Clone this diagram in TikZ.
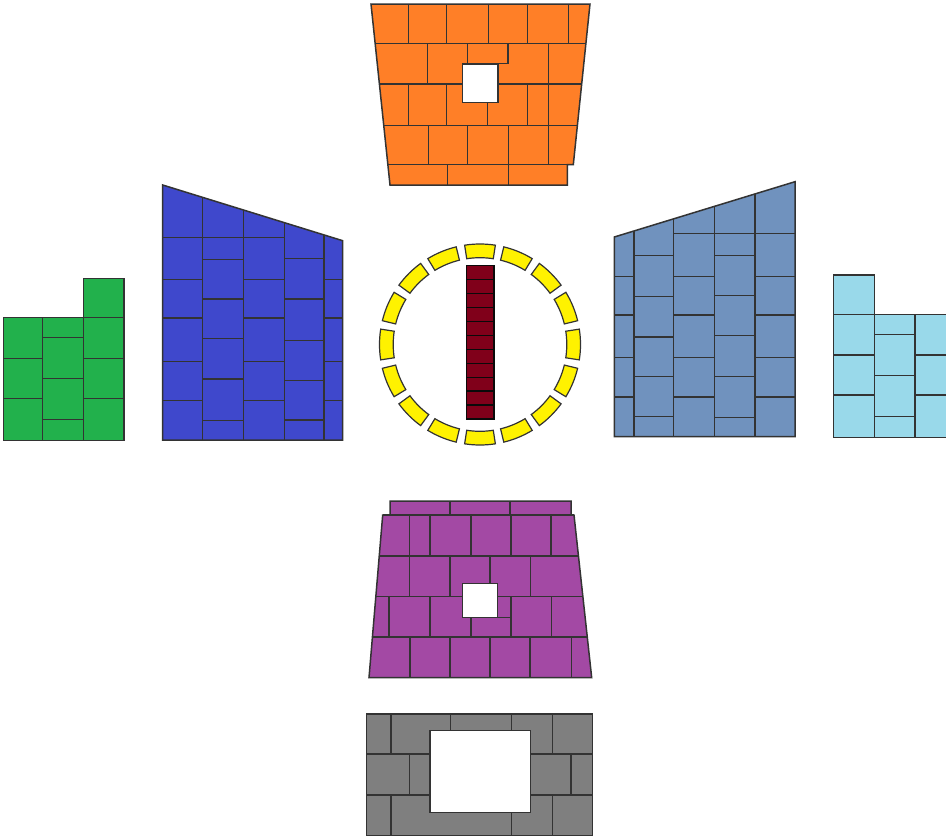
\documentclass[tikz,border=0pt]{standalone}
\definecolor{orangeW}{HTML}{FF7F27}
\definecolor{indigoW}{HTML}{3F48CC}
\definecolor{greenW}{HTML}{22B14C}
\definecolor{steelW}{HTML}{7092BE}
\definecolor{turqW}{HTML}{99D9EA}
\definecolor{purpleW}{HTML}{A349A4}
\definecolor{grayW}{HTML}{7F7F7F}
\definecolor{yellowW}{HTML}{FFF200}
\definecolor{redW}{HTML}{80001A}
\definecolor{edgeW}{HTML}{333333}
\definecolor{redjoint}{HTML}{0A0A0A}
\begin{document}
\begin{tikzpicture}[x=1pt,y=-1pt,
  wall/.style={draw=edgeW,line width=1.5pt,line join=miter},
  joint/.style={draw=edgeW,line width=1.3pt},
  hole/.style={fill=white,draw=edgeW,line width=1.5pt}]
\clip (0,0) rectangle (946,838);
\fill[white] (0,0) rectangle (946,838);

% ---------- orange (top) ----------
\filldraw[wall,fill=orangeW] (371,4) -- (590,4) -- (573.3,164.7) -- (567.3,164.7) -- (567.3,185) -- (390,185) -- cycle;
\draw[joint] (375.1,43.3) -- (585.9,43.3);
\draw[joint] (379.4,84) -- (462.7,84) (498,84) -- (581.7,84);
\draw[joint] (383.7,125.3) -- (577.4,125.3);
\draw[joint] (387.9,164.7) -- (573.3,164.7);
\draw[joint] (467.3,63.7) -- (508,63.7);
\foreach \x in {408.3,446.7,488.3,527.3,568.3} \draw[joint] (\x,4) -- (\x,43.3);
\foreach \x in {427.7,548.3} \draw[joint] (\x,43.3) -- (\x,84);
\foreach \x in {467.3,508} \draw[joint] (\x,43.3) -- (\x,63.7);
\foreach \x in {408.3,446.7,527.3,548.3} \draw[joint] (\x,84) -- (\x,125.3);
\draw[joint] (487.7,102.7) -- (487.7,125.3);
\foreach \x in {428.3,467.3,508.7,548.3} \draw[joint] (\x,125.3) -- (\x,164.7);
\foreach \x in {447.7,508.7} \draw[joint] (\x,164.7) -- (\x,185);
\draw[hole] (462.7,64) rectangle (498,102.7);

% ---------- indigo (left) ----------
\filldraw[wall,fill=indigoW] (162.7,185) -- (342.7,240.7) -- (342.7,440) -- (162.7,440) -- cycle;
\foreach \x/\t in {202.7/197.4,243.3/209.9,284.7/222.7,324/234.9} \draw[joint] (\x,\t) -- (\x,440);
\foreach \y in {237.3,279.3,318,361.3,400.3} \draw[joint] (162.7,\y) -- (202.7,\y);
\foreach \y in {237.3,259.3,299,338.7,379,420.7} \draw[joint] (202.7,\y) -- (243.3,\y);
\foreach \y in {237.3,279.3,318,361.3,400.3} \draw[joint] (243.3,\y) -- (284.7,\y);
\foreach \y in {258.7,299,340.3,380.3,420} \draw[joint] (284.7,\y) -- (324,\y);
\foreach \y in {279.3,318,361.3,400.3} \draw[joint] (324,\y) -- (342.7,\y);

% ---------- green (far left) ----------
\filldraw[wall,fill=greenW] (3.3,317.7) -- (83.3,317.7) -- (83.3,278.7) -- (124,278.7) -- (124,440.7) -- (3.3,440.7) -- cycle;
\foreach \x in {42.7,83.3} \draw[joint] (\x,317.7) -- (\x,440.7);
\foreach \y in {358.7,398.3} \draw[joint] (3.3,\y) -- (42.7,\y);
\foreach \y in {337.7,378.7,419.7} \draw[joint] (42.7,\y) -- (83.3,\y);
\foreach \y in {317.7,358.7,398.3} \draw[joint] (83.3,\y) -- (124,\y);

% ---------- steel blue (right) ----------
\filldraw[wall,fill=steelW] (614.3,237) -- (795,181.7) -- (795,436.7) -- (614.3,436.7) -- cycle;
\foreach \x/\t in {634/231,673.3/218.9,714.7/206.3,755/193.9} \draw[joint] (\x,\t) -- (\x,436.7);
\foreach \y in {276.3,315,357.7,397} \draw[joint] (614.3,\y) -- (634,\y);
\foreach \y in {255.3,296.3,337,376.3,416.7} \draw[joint] (634,\y) -- (673.3,\y);
\foreach \y in {233.7,276.3,315,357.7,397} \draw[joint] (673.3,\y) -- (714.7,\y);
\foreach \y in {233.7,255.3,295.7,335.3,376.3,417.7} \draw[joint] (714.7,\y) -- (755,\y);
\foreach \y in {233.7,276.3,315,357.7,397} \draw[joint] (755,\y) -- (795,\y);

% ---------- turquoise (far right) ----------
\filldraw[wall,fill=turqW] (833.3,275) -- (874.3,275) -- (874.3,314.3) -- (960,314.3) -- (960,437.7) -- (833.3,437.7) -- cycle;
\foreach \x in {874.3,915} \draw[joint] (\x,314.3) -- (\x,437.7);
\foreach \y in {314.6,355,395} \draw[joint] (833.3,\y) -- (874.3,\y);
\foreach \y in {334.3,375.7,416.7} \draw[joint] (874.3,\y) -- (915,\y);
\foreach \y in {355,395} \draw[joint] (915,\y) -- (960,\y);

% ---------- purple (bottom) ----------
\filldraw[wall,fill=purpleW] (390,501) -- (571,501) -- (571,515) -- (574,515) -- (591.7,677.7) -- (369,677.7) -- (382.7,515) -- (390,515) -- cycle;
\draw[joint] (382.7,515) -- (574,515);
\draw[joint] (379.2,556) -- (578.5,556);
\draw[joint] (375.8,596.7) -- (462.7,596.7) (497.3,596.7) -- (582.9,596.7);
\draw[joint] (372.4,637) -- (587.3,637);
\draw[joint] (497.3,617.7) -- (511,617.7);
\foreach \x in {450,510} \draw[joint] (\x,501) -- (\x,515);
\foreach \x in {409.3,430,471,511,551} \draw[joint] (\x,515) -- (\x,556);
\foreach \x in {409.3,450,530.7} \draw[joint] (\x,556) -- (\x,596.7);
\draw[joint] (490,556) -- (490,583.7);
\foreach \x in {389,430,511,551.7} \draw[joint] (\x,596.7) -- (\x,637);
\draw[joint] (471,617.7) -- (471,637);
\foreach \x in {410,450,490,530,571.7} \draw[joint] (\x,637) -- (\x,677.7);
\draw[hole] (462.7,583.7) rectangle (497.3,617.7);

% ---------- gray (bottom) ----------
\filldraw[wall,fill=grayW] (366.7,714) rectangle (592.3,835.7);
\draw[joint] (366.7,754) -- (430,754) (530.7,754) -- (592.3,754);
\draw[joint] (366.7,795) -- (430,795) (530.7,795) -- (592.3,795);
\foreach \x in {391,552.3} \draw[joint] (\x,714) -- (\x,754);
\foreach \x in {450.7,511.7} \draw[joint] (\x,714) -- (\x,730.7);
\foreach \x in {409.3,571} \draw[joint] (\x,754) -- (\x,795);
\foreach \x in {391,552.3} \draw[joint] (\x,795) -- (\x,835.7);
\draw[joint] (511.7,812.3) -- (511.7,835.7);
\draw[hole] (430,730.7) rectangle (530.7,812.3);

% ---------- yellow ring ----------
\begin{scope}[shift={(480,344.5)}]
\foreach \a [evaluate=\a as \lo using \a-8.8, evaluate=\a as \hi using \a+8.8] in {0,22.5,...,337.5}
  \filldraw[wall,line width=1.2pt,fill=yellowW] (\lo:100.5) arc[start angle=\lo,end angle=\hi,radius=100.5] -- (\hi:86.8) arc[start angle=\hi,end angle=\lo,radius=86.8] -- cycle;
\end{scope}

% ---------- dark red column (11 bricks) ----------
\foreach \t/\b in {265.7/279.6,279.6/293.6,293.6/307.5,307.5/321.4,321.4/335.4,335.4/349.3,349.3/363.3,363.3/377.2,377.2/391.1,391.1/405.1,405.1/419}
  \filldraw[draw=redjoint,line width=1.4pt,fill=redW] (466.7,\t) rectangle (494,\b);
\end{tikzpicture}
\end{document}
